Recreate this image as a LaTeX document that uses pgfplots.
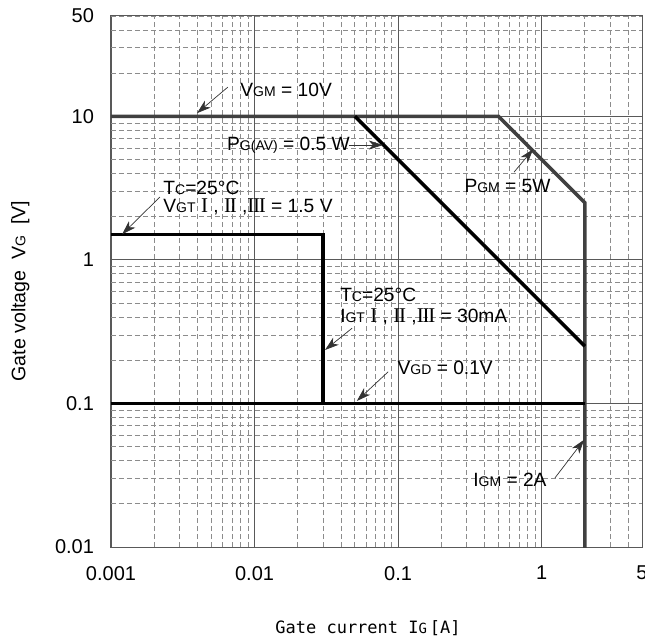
\documentclass[border=0pt]{standalone}
\usepackage{pgfplots}
\pgfplotsset{compat=1.18}
\usepackage{fontspec}
\setmainfont{Liberation Sans}
\newfontfamily\serifrn{Liberation Serif}
\newfontfamily\mono{DejaVu Sans Mono}
\usetikzlibrary{arrows.meta}
\newcommand{\sub}[1]{{\fontsize{7}{8}\selectfont #1}}
\newcommand{\rnI}{{\serifrn\fontsize{10.5}{11}\selectfont I}}
\newcommand{\rnII}{{\serifrn\fontsize{10.5}{11}\selectfont I\kern-0.06em I}}
\newcommand{\rnIII}{{\serifrn\fontsize{10.5}{11}\selectfont I\kern-0.06em I\kern-0.06em I}}
\begin{document}
\begin{tikzpicture}[
  ann/.style={font=\fontsize{9.6}{10}\selectfont, inner sep=0pt, anchor=west},
  arr/.style={-{Stealth[length=7pt,width=4.5pt,inset=2pt]}, line width=0.35pt, black!80}
]
\begin{axis}[
  xmode=log, ymode=log,
  scale only axis, width=265.5pt, height=265.5pt,
  xmin=0.001, xmax=5, ymin=0.01, ymax=50,
  log ticks with fixed point,
  /pgf/number format/precision=3,
  /pgf/number format/assume math mode=true,
  extra x ticks={5}, extra x tick labels={5},
  extra y ticks={50}, extra y tick labels={50},
  extra x tick style={grid=none},
  extra y tick style={grid=none},
  major tick length=0pt, minor tick length=0pt,
  grid=both,
  major grid style={line width=0.4pt, black!65},
  minor grid style={line width=0.4pt, black!45, dash pattern=on 2.5pt off 1.5pt},
  axis line style={black!65, line width=0.5pt},
  xticklabel style={font=\fontsize{10}{11}\selectfont, yshift=-6pt},
  yticklabel style={font=\fontsize{10}{11}\selectfont, xshift=-5pt},
  xlabel={\mono Gate current I\sub{G}\,[A]},
  ylabel={Gate voltage\ \ V\sub{G}\ \ [V]},
  xlabel style={at={(axis description cs:0.484,-0.153)}, anchor=center, font=\fontsize{8.5}{10}\selectfont},
  ylabel style={at={(axis description cs:-0.171,0.482)}, anchor=center, font=\fontsize{9.8}{10}\selectfont},
  clip=true,
]
\addplot[line width=1.8pt, black!75] coordinates {(0.001,10) (0.5,10) (2,2.5) (2,0.009)};
\addplot[line width=1.8pt, black] coordinates {(0.05,10) (2,0.25)};
\addplot[line width=1.8pt, black] coordinates {(0.001,1.5) (0.03,1.5) (0.03,0.1)};
\addplot[line width=1.8pt, black] coordinates {(0.001,0.1) (2,0.1)};

\node[ann] at (rel axis cs:0.243,0.861) {V\sub{GM} = 10V};
\draw[arr] (rel axis cs:0.220,0.866) -- (rel axis cs:0.162,0.817);
\node[ann] at (rel axis cs:0.218,0.757) {P\sub{G(AV)} = 0.5 W};
\draw[arr] (rel axis cs:0.448,0.757) -- (rel axis cs:0.512,0.757);
\node[ann] at (rel axis cs:0.665,0.680) {P\sub{GM} = 5W};
\draw[arr] (rel axis cs:0.759,0.706) -- (rel axis cs:0.795,0.749);
\node[ann] at (rel axis cs:0.098,0.676) {T\sub{C}=25°C};
\node[ann] at (rel axis cs:0.098,0.640) {V\sub{GT} \rnI\ , \rnII\ ,\rnIII\ = 1.5 V};
\draw[arr] (rel axis cs:0.092,0.659) -- (rel axis cs:0.021,0.589);
\node[ann] at (rel axis cs:0.431,0.475) {T\sub{C}=25°C};
\node[ann] at (rel axis cs:0.431,0.433) {I\sub{GT} \rnI\ , \rnII\ ,\rnIII\ = 30mA};
\draw[arr] (rel axis cs:0.454,0.412) -- (rel axis cs:0.403,0.371);
\node[ann] at (rel axis cs:0.539,0.337) {V\sub{GD} = 0.1V};
\draw[arr] (rel axis cs:0.522,0.330) -- (rel axis cs:0.463,0.275);
\node[ann, anchor=east] at (rel axis cs:0.821,0.126) {I\sub{GM} = 2A};
\draw[arr] (rel axis cs:0.836,0.130) -- (rel axis cs:0.891,0.202);
\end{axis}
\pgfresetboundingbox
\path[use as bounding box] ([xshift=-55.5pt,yshift=-48.5pt]current axis.south west) rectangle ([xshift=1.5pt,yshift=8pt]current axis.north east);
\end{tikzpicture}
\end{document}
